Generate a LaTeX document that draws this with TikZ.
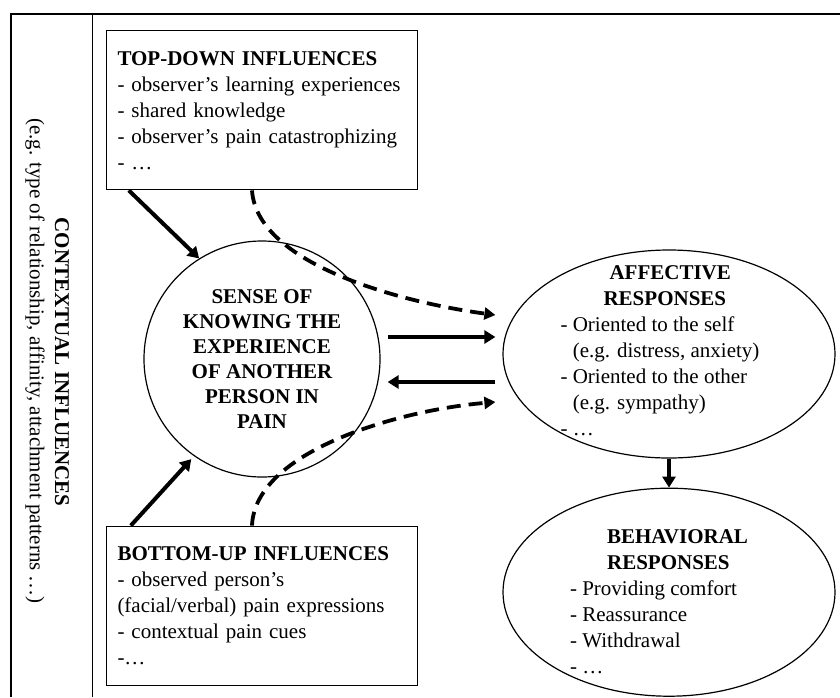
\documentclass[tikz,border=0pt]{standalone}
\usepackage{fontspec}
\setmainfont{Liberation Serif}
\usepackage{tikz}
\usetikzlibrary{positioning}
\usetikzlibrary{arrows.meta,shapes.geometric}

\begin{document}
\begin{tikzpicture}[x=1pt,y=-1pt,
  txt/.style={font=\fontsize{21}{26}\selectfont},
  hd/.style={font=\fontsize{21}{25}\selectfont\bfseries},
  infl/.style={txt,draw,line width=1.4pt,align=left,text width=289pt,minimum width=311pt,minimum height=159pt,inner sep=11pt},
  resp/.style={draw,line width=1.2pt,ellipse,minimum width=332pt,minimum height=208pt,inner sep=0pt},
  arr/.style={line width=4pt,-{Triangle[length=11pt,width=13pt]}},
  darr/.style={line width=3.8pt,dash pattern=on 14pt off 8pt,-{Triangle[length=11pt,width=12pt]}}]
\useasboundingbox (0,0) rectangle (840,697);
\draw[line width=1.5pt] (11,697) |- (840,14);
\draw[line width=1pt] (92,14) -- (92,697);

\node[hd,rotate=-90] (ctx) at (62,362) {CONTEXTUAL INFLUENCES};
\node[txt,rotate=-90] (ctxeg) at (35,361) {(e.g. type of relationship, affinity, attachment patterns …)};

\node[hd,circle,draw,line width=1.2pt,minimum size=236pt,inner sep=0pt,align=center] (sense) at (262,359)
  {SENSE OF\\KNOWING THE\\EXPERIENCE\\OF ANOTHER\\PERSON IN\\PAIN};
\node[infl,above=50pt of sense] (topdown)
  {\textbf{TOP-DOWN INFLUENCES}\\- observer’s learning experiences\\- shared knowledge\\- observer’s pain catastrophizing\\- …};
\node[infl,below=48pt of sense] (bottomup)
  {\textbf{BOTTOM-UP INFLUENCES}\\- observed person’s\\(facial/verbal) pain expressions\\- contextual pain cues\\-…};

\node[resp] (affect) at (669,354) {};
\node[txt,align=left,xshift=-9pt,yshift=3pt] (affecttxt) at (affect)
  {\hspace*{49pt}\textbf{AFFECTIVE}\\\hspace*{43pt}\textbf{RESPONSES}\\- Oriented to the self\\\phantom{- }(e.g. distress, anxiety)\\- Oriented to the other\\\phantom{- }(e.g. sympathy)\\- …};
\node[resp,below=29pt of affect] (behav) {};
\node[txt,align=left,xshift=-10pt,yshift=-9pt] (behavtxt) at (behav)
  {\hspace*{37pt}\textbf{BEHAVIORAL}\\\hspace*{37pt}\textbf{RESPONSES}\\- Providing comfort\\- Reassurance\\- Withdrawal\\- …};

\draw[arr] ([xshift=23pt]topdown.south west) -- (sense.122);
\draw[arr,shorten >=4pt] ([xshift=25pt]bottomup.north west) -- (sense.235);
\draw[arr,shorten <=7pt,shorten >=7pt] ([yshift=22pt]sense.east) -- ([yshift=17pt]affect.west);
\draw[arr,shorten <=7pt,shorten >=7pt] ([yshift=-28pt]affect.west) -- ([yshift=-23pt]sense.east);
\draw[arr] (affect.south) -- (behav.north);
\draw[darr] ([xshift=-10pt]topdown.south) .. controls +(5,75) and +(-90,-12) .. ([shift={(-7pt,39pt)}]affect.west);
\draw[darr] ([xshift=-10pt]bottomup.north) .. controls +(3,-75) and +(-95,8) .. ([shift={(-7pt,-48pt)}]affect.west);
\end{tikzpicture}
\end{document}
